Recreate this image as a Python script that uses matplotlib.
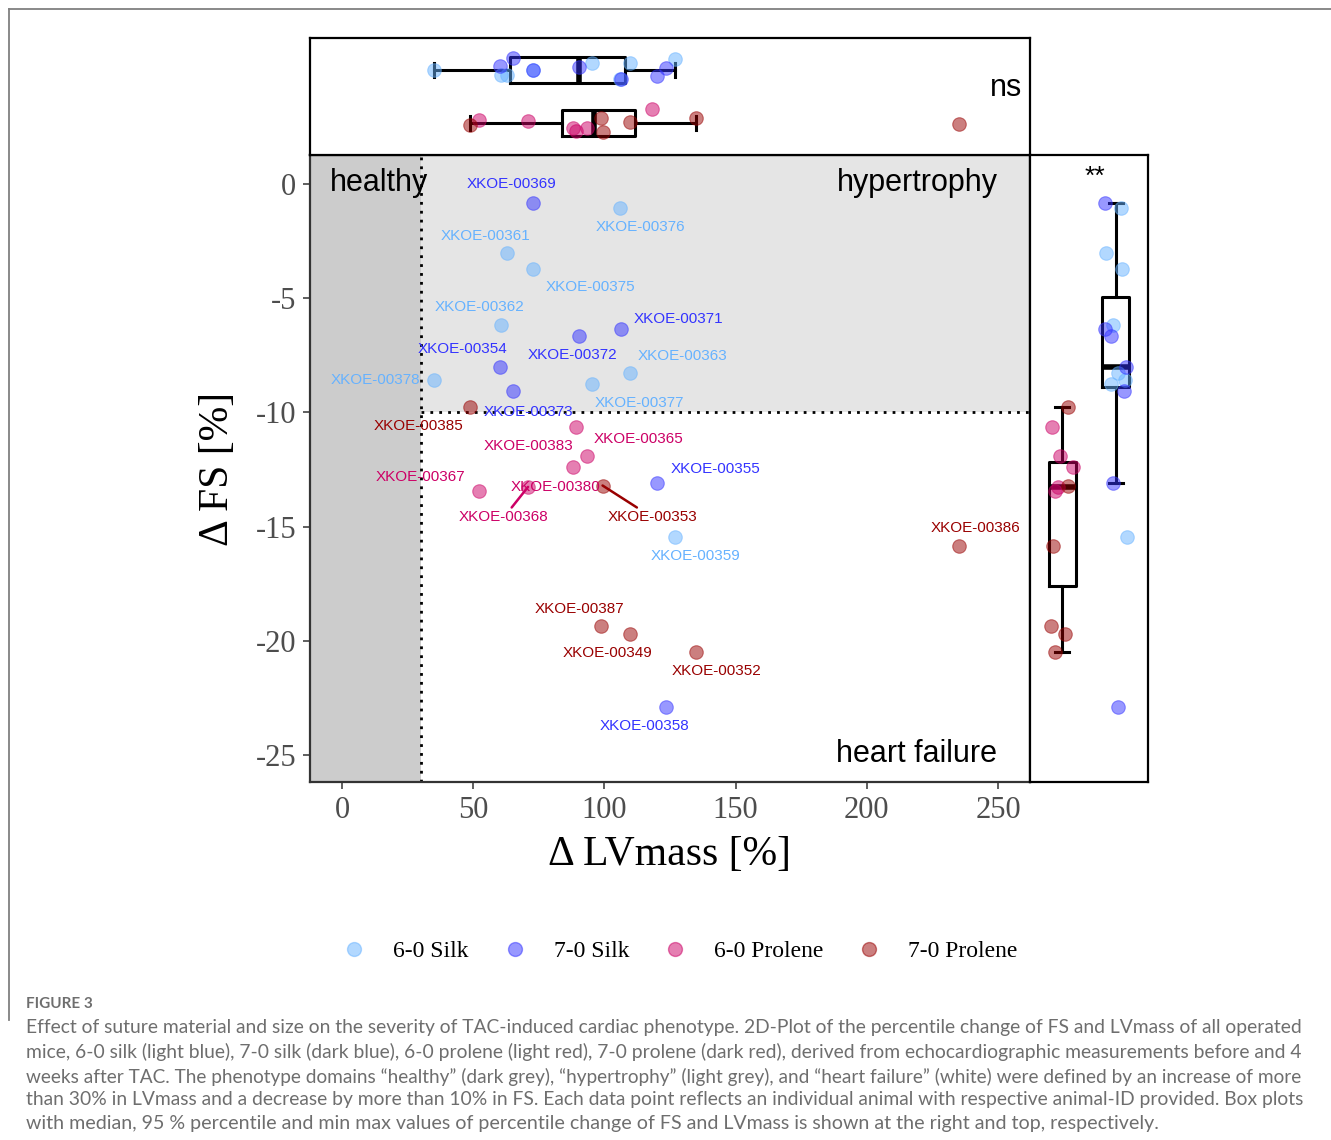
import numpy as np
import matplotlib
matplotlib.use('Agg')
import matplotlib.pyplot as plt
from matplotlib.patches import Rectangle
from matplotlib.lines import Line2D

plt.rcParams['font.family'] = ['Liberation Sans', 'DejaVu Sans']

# ---- data ----
# 6-0 Silk
id_s60 = ['XKOE-00376', 'XKOE-00361', 'XKOE-00375', 'XKOE-00362',
          'XKOE-00378', 'XKOE-00377', 'XKOE-00363', 'XKOE-00359']
lv_s60 = [105.9, 62.9, 72.8, 60.6, 35.0, 95.2, 109.7, 126.9]
fs_s60 = [-1.05, -3.02, -3.72, -6.17, -8.58, -8.75, -8.27, -15.45]
labx_s60 = [113.9, 54.7, 94.5, 52.6, 12.8, 113.2, 129.8, 134.9]
laby_s60 = [-1.89, -2.26, -4.53, -5.39, -8.58, -9.60, -7.52, -16.29]
jt_s60 = [-0.17, -0.09, -0.01, -0.09, 0.0, 0.13, 0.13, 0.20]     # top strip jitter
jr_s60 = [0.097, -0.177, 0.115, -0.06, 0.171, -0.097, 0.033, 0.208]  # right strip jitter

# 7-0 Silk
id_s70 = ['XKOE-00369', 'XKOE-00371', 'XKOE-00372', 'XKOE-00354',
          'XKOE-00373', 'XKOE-00355', 'XKOE-00358']
lv_s70 = [72.6, 106.3, 90.2, 60.2, 65.3, 119.9, 123.3]
fs_s70 = [-0.82, -6.35, -6.65, -8.0, -9.05, -13.07, -22.9]
labx_s70 = [64.7, 128.3, 87.8, 46.0, 71.2, 142.3, 115.2]
laby_s70 = [-0.02, -5.91, -7.49, -7.22, -9.97, -12.49, -23.73]
jt_s70 = [-0.01, -0.18, 0.06, 0.07, 0.22, -0.12, 0.03]
jr_s70 = [-0.20, -0.195, -0.084, 0.19, 0.152, -0.052, 0.041]

# 6-0 Prolene
id_p60 = ['XKOE-00383', 'XKOE-00365', 'XKOE-00380', 'XKOE-00367', 'XKOE-00368']
lv_p60 = [89.1, 93.5, 87.9, 52.2, 70.9]
fs_p60 = [-10.62, -11.9, -12.4, -13.42, -13.26]
labx_p60 = [71.2, 113.1, 81.3, 30.0, 61.7]
laby_p60 = [-11.45, -11.16, -13.28, -12.84, -14.59]
jt_p60 = [-0.15, -0.10, -0.09, 0.06, 0.03]
jr_p60 = [-0.186, -0.037, 0.197, -0.125, -0.082]
lv_p60_only = [118.0]      # animal with LVmass only (top strip)
jt_p60_only = [0.26]

# 7-0 Prolene
id_p70 = ['XKOE-00385', 'XKOE-00353', 'XKOE-00386', 'XKOE-00387',
          'XKOE-00349', 'XKOE-00352']
lv_p70 = [48.8, 99.3, 235.0, 98.7, 109.7, 134.9]
fs_p70 = [-9.75, -13.2, -15.86, -19.37, -19.69, -20.47]
labx_p70 = [29.3, 118.2, 241.4, 90.6, 101.2, 142.9]
laby_p70 = [-10.58, -14.59, -15.07, -18.6, -20.55, -21.32]
jt_p70 = [-0.04, -0.17, -0.02, 0.09, 0.02, 0.10]
jr_p70 = [0.117, 0.104, -0.162, -0.204, 0.056, -0.13]

repel_ids = ['XKOE-00368', 'XKOE-00353']   # labels drawn with a segment

groups = ['6-0 Silk', '7-0 Silk', '6-0 Prolene', '7-0 Prolene']
colors = ['#66B2FF', '#3333FF', '#CC0066', '#990000']

x_ticks = [0, 50, 100, 150, 200, 250]
y_ticks = [0, -5, -10, -15, -20, -25]

caption = [
    "Effect of suture material and size on the severity of TAC-induced cardiac phenotype. 2D-Plot of the percentile change of FS and LVmass of all operated",
    "mice, 6-0 silk (light blue), 7-0 silk (dark blue), 6-0 prolene (light red), 7-0 prolene (dark red), derived from echocardiographic measurements before and 4",
    "weeks after TAC. The phenotype domains \u201chealthy\u201d (dark grey), \u201chypertrophy\u201d (light grey), and \u201cheart failure\u201d (white) were defined by an increase of more",
    "than 30% in LVmass and a decrease by more than 10% in FS. Each data point reflects an individual animal with respective animal-ID provided. Box plots",
    "with median, 95 % percentile and min max values of percentile change of FS and LVmass is shown at the right and top, respectively.",
]

sets = [
    (id_s60, lv_s60, fs_s60, labx_s60, laby_s60, jt_s60, jr_s60),
    (id_s70, lv_s70, fs_s70, labx_s70, laby_s70, jt_s70, jr_s70),
    (id_p60, lv_p60, fs_p60, labx_p60, laby_p60, jt_p60, jr_p60),
    (id_p70, lv_p70, fs_p70, labx_p70, laby_p70, jt_p70, jr_p70),
]

W, H = 1331, 1140
fig = plt.figure(figsize=(W / 100, H / 100), dpi=100)

def frac(x0, y0, x1, y1):
    return [x0 / W, 1 - y1 / H, (x1 - x0) / W, (y1 - y0) / H]

ax = fig.add_axes(frac(310, 155, 1030, 782))
axt = fig.add_axes(frac(310, 38, 1030, 155), sharex=ax)
axr = fig.add_axes(frac(1030, 155, 1148, 782), sharey=ax)

xlim = (-12.2, 262.2)
ylim = (-26.18, 1.27)
ax.set_xlim(xlim)
ax.set_ylim(ylim)

# phenotype domains
ax.add_patch(Rectangle((xlim[0], ylim[0]), 30 - xlim[0], ylim[1] - ylim[0],
                       facecolor='#CCCCCC', edgecolor='none', zorder=0))
ax.add_patch(Rectangle((30, -10), xlim[1] - 30, ylim[1] + 10,
                       facecolor='#E5E5E5', edgecolor='none', zorder=0))
ax.axvline(30, color='black', ls=(0, (1, 2.2)), lw=2, zorder=1)
ax.hlines(-10, 30, xlim[1], color='black', ls=(0, (1, 2.2)), lw=2, zorder=1)

ax.text(-4.6, 0.03, 'healthy', fontsize=22, ha='left', va='center')
ax.text(250, 0.03, 'hypertrophy', fontsize=22, ha='right', va='center')
ax.text(249.5, -24.95, 'heart failure', fontsize=22, ha='right', va='center')

ms = 95
for (ids, lv, fs, lx, ly, jt, jr), col, name in zip(sets, colors, groups):
    ax.scatter(lv, fs, s=ms, color=col, alpha=0.5, edgecolors=col, linewidths=0.8, zorder=3)
    for i, t in enumerate(ids):
        if t in repel_ids:
            ax.annotate(t, xy=(lv[i], fs[i]), xytext=(lx[i], ly[i]), color=col,
                        fontsize=11, ha='center', va='center', zorder=4,
                        arrowprops=dict(arrowstyle='-', color=col, lw=1.8,
                                        shrinkA=0, shrinkB=0))
        else:
            ax.text(lx[i], ly[i], t, color=col, fontsize=11, ha='center',
                    va='center', zorder=4)

ax.set_xticks(x_ticks)
ax.set_xticklabels([str(v) for v in x_ticks], fontfamily='Liberation Serif')
ax.set_yticks(y_ticks)
ax.set_yticklabels([str(v) for v in y_ticks], fontfamily='Liberation Serif')
ax.tick_params(labelsize=22, labelcolor='#4D4D4D', color='#333333',
               length=5, width=1.1, pad=5)
ax.set_xlabel('\u0394 LVmass [%]', fontfamily='Liberation Serif', fontsize=30,
              labelpad=7.5)
ax.set_ylabel('\u0394 FS [%]', fontfamily='Liberation Serif', fontsize=30,
              labelpad=13)
for sp in ax.spines.values():
    sp.set_color('black')
    sp.set_linewidth(1.6)
ax.spines['left'].set_color('#333333')
ax.spines['bottom'].set_color('#333333')

# ---- marginal box plots ----
lv_silk = lv_s60 + lv_s70
lv_pro = lv_p60 + lv_p60_only + lv_p70
fs_silk = fs_s60 + fs_s70
fs_pro = fs_p60 + fs_p70

box_kw = dict(widths=0.5, showfliers=False, capwidths=0.27, patch_artist=False,
              boxprops=dict(lw=2.2, color='black'), whiskerprops=dict(lw=2.2, color='black'),
              capprops=dict(lw=2.2, color='black'), medianprops=dict(lw=4, color='black'))

axt.boxplot([lv_pro, lv_silk], positions=[1, 2], orientation='horizontal',
            manage_ticks=False, **box_kw)
axr.boxplot([fs_pro, fs_silk], positions=[1, 2], manage_ticks=False, **box_kw)

for (ids, lv, fs, lx, ly, jt, jr), col in zip(sets, colors):
    row = 2 if col in colors[:2] else 1
    axt.scatter(lv, np.array(jt) + row, s=ms, color=col, alpha=0.5,
                edgecolors=col, linewidths=0.8, zorder=3)
    axr.scatter(np.array(jr) + row, fs, s=ms, color=col, alpha=0.5,
                edgecolors=col, linewidths=0.8, zorder=3)
axt.scatter(lv_p60_only, np.array(jt_p60_only) + 1, s=ms, color=colors[2],
            alpha=0.5, edgecolors=colors[2], linewidths=0.8, zorder=3)

axt.set_ylim(0.4, 2.6)
axr.set_xlim(0.4, 2.6)
axt.text(259.3, 1.66, 'ns', fontsize=22, ha='right', va='center')
axr.text(1.62, 0.3, '**', fontsize=19, ha='center', va='center')
for a in (axt, axr):
    a.tick_params(left=False, bottom=False, labelleft=False, labelbottom=False)
    for sp in a.spines.values():
        sp.set_color('black')
        sp.set_linewidth(1.6)

# ---- legend ----
handles = [Line2D([], [], ls='none', marker='o', markersize=10, color=c,
                  alpha=0.5, markeredgecolor=c) for c in colors]
fig.legend(handles, groups, loc='center', bbox_to_anchor=(680 / W, 1 - 951 / H),
           ncol=4, frameon=False, handlelength=1.0, handletextpad=1.15,
           columnspacing=1.45, prop={'family': 'Liberation Serif', 'size': 17})

# ---- panel frame and caption ----
fig.add_artist(Line2D([9 / W, 1], [1 - 9 / H, 1 - 9 / H], color='#808080', lw=1.3))
fig.add_artist(Line2D([9 / W, 9 / W], [1 - 9 / H, 1 - 1020 / H], color='#808080', lw=1.3))

fig.text(26 / W, 1 - 1004 / H, 'FIGURE 3', fontfamily='Lato', fontweight='bold',
         fontsize=11, color='#6E6E6E', va='center')
cap_y = [1028, 1052, 1077, 1100, 1124]
renderer = fig.canvas.get_renderer()
base_fs = None
for k, (line, yy) in enumerate(zip(caption, cap_y)):
    t = fig.text(26 / W, 1 - yy / H, line, fontfamily='Lato', fontsize=12.5,
                 color='#6E6E6E', va='center')
    if k < 4:
        # justified lines end at the right margin
        w = t.get_window_extent(renderer).width
        t.set_fontsize(12.5 * 1283 / w)
        if base_fs is None:
            base_fs = 12.5 * 1283 / w
    else:
        t.set_fontsize(base_fs * 1.02)

fig.savefig('out.png', dpi=100)
